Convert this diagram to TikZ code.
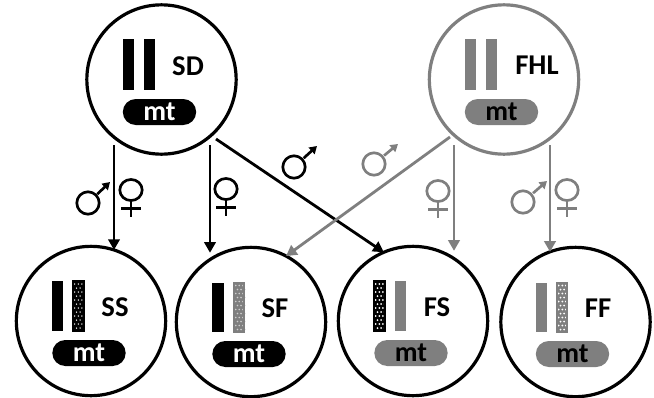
\documentclass[tikz,border=0pt]{standalone}
\usepackage{fontspec}
\setmainfont{Carlito}
\usetikzlibrary{arrows.meta}
\definecolor{gr}{HTML}{7F7F7F}
\definecolor{lgr}{HTML}{CDCDCD}
% left x, top y, fill, dot colour, dot radius
\newcommand{\hatched}[6]{\fill[#4] (#1,#2) rectangle ++(#6,50);
  \foreach \r in {0,...,11}{\foreach \c in {0,1,2}{
    \fill[#5] ({#1+1.7+\c*3.6+mod(\r,2)*1.8},{#2+3+\r*4}) circle[radius=#3];}}
  \draw[#4,line width=.9pt] (#1,#2) rectangle ++(#6,50);}
\tikzset{
  x=0.75pt,y=-0.75pt,
  org/.style={circle,draw=#1,line width=2.4pt,minimum size=112pt,inner sep=0pt,outer sep=0pt},
  pill/.style={rounded corners=9.7pt,inner sep=0pt,outer sep=0pt,minimum width=55pt,minimum height=19.5pt,fill=#1,font=\fontsize{21}{22}\selectfont\bfseries},
  lbl/.style={font=\fontsize{21.5}{23}\selectfont\bfseries,inner sep=0pt},
  arr/.style={draw=#1,line width=2.1pt,-{Triangle[length=8pt,width=8.5pt]}},
  sym/.style={draw=#1,line width=2pt},
  pics/male/.style n args={3}{code={
    \draw[sym=#1] (0,0) circle[radius=8.4pt];
    \draw[sym=#1,-{Triangle[length=5.5pt,width=6.5pt]}] (#2*.42,#3*.42) -- (#2,#3);
  }},
  pics/female/.style={code={
    \draw[sym=#1] (0,0) ellipse[x radius=8.4pt,y radius=7.9pt];
    \draw[sym=#1] (0,10.5) -- (0,27) (-10,18.5) -- (10,18.5);
  }},
}
\begin{document}
\begin{tikzpicture}
\useasboundingbox (0,0) rectangle (654,397);
% organisms
\node[org=black] (SD) at (161.5,79.5) {};
\node[org=gr] (FHL) at (504,79.5) {};
\node[org=black] (SS) at (91,321) {};
\node[org=black] (SF) at (251,322) {};
\node[org=black] (FS) at (413,321) {};
\node[org=black] (FF) at (575.5,322) {};
% SD
\fill (123,39) rectangle (134,90); \fill (144,39) rectangle (155,90);
\node[pill=black,text=white] (mSD) at (159.5,112) {mt};
\node[lbl] (tSD) at (188,66) {SD};
% FHL
\fill[gr] (465,39) rectangle (476,90); \fill[gr] (486,39) rectangle (497,90);
\node[pill=gr,text=black] (mFHL) at (501.5,112) {mt};
\node[lbl] (tFHL) at (537,65) {FHL};
% SS
\fill (52,281) rectangle (63,331);
\hatched{73}{281}{0.75}{black}{white}{11}
\node[pill=black,text=white] (mSS) at (89,353) {mt};
\node[lbl] (tSS) at (115,307) {SS};
% SF
\fill (212,283) rectangle (224,332);
\hatched{234}{282.5}{0.9}{gr}{lgr}{10}
\node[pill=black,text=white] (mSF) at (249,354) {mt};
\node[lbl] (tSF) at (275,308) {SF};
% FS
\hatched{374}{281}{1}{black}{white}{11}
\fill[gr] (395,281) rectangle (406,331);
\node[pill=gr,text=black] (mFS) at (411,353) {mt};
\node[lbl] (tFS) at (437,307) {FS};
% FF
\fill[gr] (536,283) rectangle (547,332);
\hatched{557}{282.5}{1}{gr}{white}{10}
\node[pill=gr,text=black] (mFF) at (572.5,354) {mt};
\node[lbl] (tFF) at (598,308) {FF};
% connector starts
\coordinate (s1) at (114,145);
\coordinate (s2) at (210,145);
\coordinate (s3) at (216,139);
\coordinate (s4) at (450,137);
\coordinate (s5) at (454,145);
\coordinate (s6) at (550,145);
\draw[arr=black] (s1) -- (s1 |- SS.72);
\draw[arr=black] (s2) -- (s2 |- SF.112);
\draw[arr=black] (s3) -- (FS.113);
\draw[arr=gr] (s4) -- (SF.62);
\draw[arr=gr] (s5) -- (s5 |- FS.70);
\draw[arr=gr] (s6) -- (s6 |- FF.110);
% symbols
\pic at (88,203) {male={black}{22}{-21}};
\pic at (131,190) {female=black};
\pic at (226,189) {female=black};
\pic at (294,167) {male={black}{23}{-21}};
\pic at (374,164) {male={gr}{24}{-20}};
\pic at (438,191) {female=gr};
\pic at (523,202) {male={gr}{24}{-21}};
\pic at (567,190) {female=gr};
\end{tikzpicture}
\end{document}
